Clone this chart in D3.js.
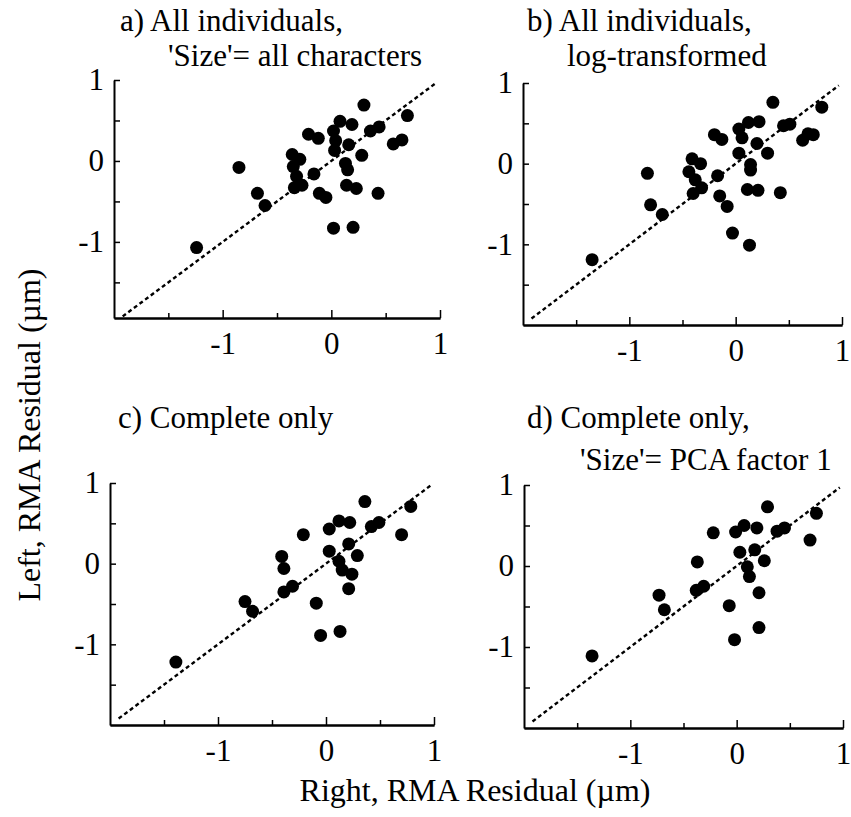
<!DOCTYPE html>
<html>
<head>
<meta charset="utf-8">
<script src="https://cdn.jsdelivr.net/npm/d3@7/dist/d3.min.js"></script>
<style>
body { margin: 0; background: #fff; }
svg { display: block; }
text { font-family: "Liberation Serif", "Times New Roman", serif; fill: #000; }
</style>
</head>
<body>
<script>
// residuals: [right, left]
const pointsA = [
    [-1.24,-1.07],[-0.85,-0.08],[-0.68,-0.40],[-0.61,-0.55],
    [-0.36,0.08],[-0.29,0.02],[-0.35,-0.07],[-0.32,-0.19],[-0.34,-0.33],[-0.27,-0.30],
    [-0.16,-0.16],[-0.21,0.33],[-0.12,0.28],[-0.11,-0.40],[-0.05,-0.45],
    [0.02,0.37],[0.03,0.13],[0.04,0.25],[0.08,0.49],[0.19,0.45],
    [0.13,-0.03],[0.15,-0.11],[0.16,0.20],[0.28,0.07],[0.14,-0.30],[0.23,-0.34],
    [0.30,0.69],[0.36,0.37],[0.44,0.42],[0.43,-0.40],
    [0.02,-0.83],[0.20,-0.82],[0.57,0.21],[0.65,0.26],[0.70,0.56]
];
const pointsB = [
    [-1.35,-1.19],[-0.83,-0.12],[-0.80,-0.51],[-0.69,-0.63],
    [-0.41,0.06],[-0.33,0.00],[-0.44,-0.10],[-0.38,-0.20],[-0.32,-0.30],[-0.40,-0.37],
    [-0.20,0.36],[-0.13,0.30],[-0.17,-0.15],[-0.15,-0.40],[-0.08,-0.53],
    [-0.03,-0.86],[0.13,-1.01],
    [0.03,0.43],[0.06,0.32],[0.12,0.51],[0.22,0.52],[0.03,0.13],[0.20,0.25],[0.30,0.13],
    [0.14,-0.01],[0.14,-0.08],[0.11,-0.32],[0.21,-0.33],
    [0.35,0.76],[0.45,0.47],[0.51,0.49],[0.42,-0.36],
    [0.63,0.29],[0.68,0.37],[0.73,0.36],[0.81,0.70]
];
const pointsC = [
    [-1.39,-1.22],[-0.75,-0.47],[-0.68,-0.59],
    [-0.41,0.09],[-0.39,-0.06],[-0.39,-0.35],[-0.31,-0.28],
    [-0.21,0.36],[-0.09,-0.49],[-0.05,-0.89],
    [0.03,0.43],[0.03,0.155],[0.12,0.53],[0.22,0.51],
    [0.12,0.03],[0.15,-0.08],[0.24,-0.13],[0.21,-0.31],[0.21,0.245],[0.13,-0.84],[0.29,0.10],
    [0.36,0.77],[0.42,0.46],[0.49,0.51],[0.70,0.36],[0.785,0.71]
];
const pointsD = [
    [-1.36,-1.11],[-0.73,-0.36],[-0.68,-0.54],
    [-0.37,0.05],[-0.38,-0.30],[-0.31,-0.25],
    [-0.22,0.41],[-0.07,-0.49],[-0.02,-0.91],
    [-0.01,0.42],[0.07,0.50],[0.03,0.17],[0.19,0.47],[0.17,0.20],
    [0.10,-0.01],[0.12,-0.13],[0.26,0.065],[0.21,-0.33],[0.21,-0.76],
    [0.29,0.73],[0.38,0.43],[0.45,0.47],[0.69,0.32],[0.75,0.65]
];

const titleA = ["a) All individuals,", "'Size'= all characters"];
const titleB = ["b) All individuals,", "log-transformed"];
const titleC = ["c) Complete only"];
const titleD = ["d) Complete only,", "'Size'= PCA factor 1"];

const majorTicks = [-1, 0, 1];
const minorTicks = [-1.5, -0.5, 0.5];
const yTicks = [-1.5, -1, -0.5, 0, 0.5, 1];
const diag = [-1.92, 0.97];

const xLabel = "Right, RMA Residual (\u00b5m)";
const yLabel = "Left, RMA Residual (\u00b5m)";

const W = 851, H = 817;
const FS = 31;
const fmt = d => String(d);   // plain hyphen, as in the scan

// pixel frame of each panel (the scan is not perfectly regular)
const panels = [
    {pts: pointsA, title: titleA, left: 114, right: 440, top: 80, bottom: 318, yMin: -1.94,
     tx: [120, 168], ty: [31, 66]},
    {pts: pointsB, title: titleB, left: 523, right: 842, top: 83, bottom: 325, yMin: -2,
     tx: [527, 567], ty: [31, 66]},
    {pts: pointsC, title: titleC, left: 110, right: 434, top: 483, bottom: 725, yMin: -2,
     tx: [118], ty: [428]},
    {pts: pointsD, title: titleD, left: 524, right: 843, top: 485, bottom: 728, yMin: -2,
     tx: [527, 580], ty: [428, 470]},
];

const svg = d3.select("body").append("svg")
    .attr("width", W)
    .attr("height", H);

svg.append("rect").attr("width", W).attr("height", H).attr("fill", "#fff");

panels.forEach(p => {
    const x = d3.scaleLinear().domain([-2, 1]).range([p.left, p.right]);
    const y = d3.scaleLinear().domain([p.yMin, 1]).range([p.bottom, p.top]);
    const g = svg.append("g");

    // title
    p.title.forEach((t, i) => {
        g.append("text")
            .attr("x", p.tx[i])
            .attr("y", p.ty[i])
            .attr("font-size", FS)
            .text(t);
    });

    // dotted 1:1 line
    g.append("line")
        .attr("x1", x(diag[0])).attr("y1", y(diag[0]))
        .attr("x2", x(diag[1])).attr("y2", y(diag[1]))
        .attr("stroke", "#000")
        .attr("stroke-width", 2.4)
        .attr("stroke-dasharray", "4,3");

    // x axis: major ticks with labels, then minor ticks
    g.append("g")
        .attr("transform", `translate(0,${p.bottom})`)
        .call(d3.axisBottom(x).tickValues(majorTicks).tickSize(-8).tickSizeOuter(0)
            .tickPadding(14).tickFormat(fmt));
    g.append("g")
        .attr("transform", `translate(0,${p.bottom})`)
        .call(d3.axisBottom(x).tickValues(minorTicks).tickSize(-5).tickSizeOuter(0).tickFormat(""));

    // y axis
    g.append("g")
        .attr("transform", `translate(${p.left},0)`)
        .call(d3.axisLeft(y).tickValues(yTicks).tickSize(-6).tickSizeOuter(0)
            .tickPadding(10).tickFormat(d => majorTicks.includes(d) ? fmt(d) : ""));

    g.selectAll(".domain").attr("stroke-width", 2);
    g.selectAll(".tick line").attr("stroke-width", 1.5);
    g.selectAll(".tick text")
        .attr("font-size", FS)
        .attr("font-family", '"Liberation Serif", "Times New Roman", serif');

    // points
    g.selectAll(".pt")
        .data(p.pts)
        .enter().append("circle")
        .attr("class", "pt")
        .attr("cx", d => x(d[0]))
        .attr("cy", d => y(d[1]))
        .attr("r", 6.5)
        .attr("fill", "#000");
});

// shared axis titles
svg.append("text")
    .attr("x", 475)
    .attr("y", 801)
    .attr("text-anchor", "middle")
    .attr("font-size", 32)
    .text(xLabel);

svg.append("text")
    .attr("transform", "translate(40,435) rotate(-90)")
    .attr("text-anchor", "middle")
    .attr("font-size", 32)
    .text(yLabel);
</script>
</body>
</html>
